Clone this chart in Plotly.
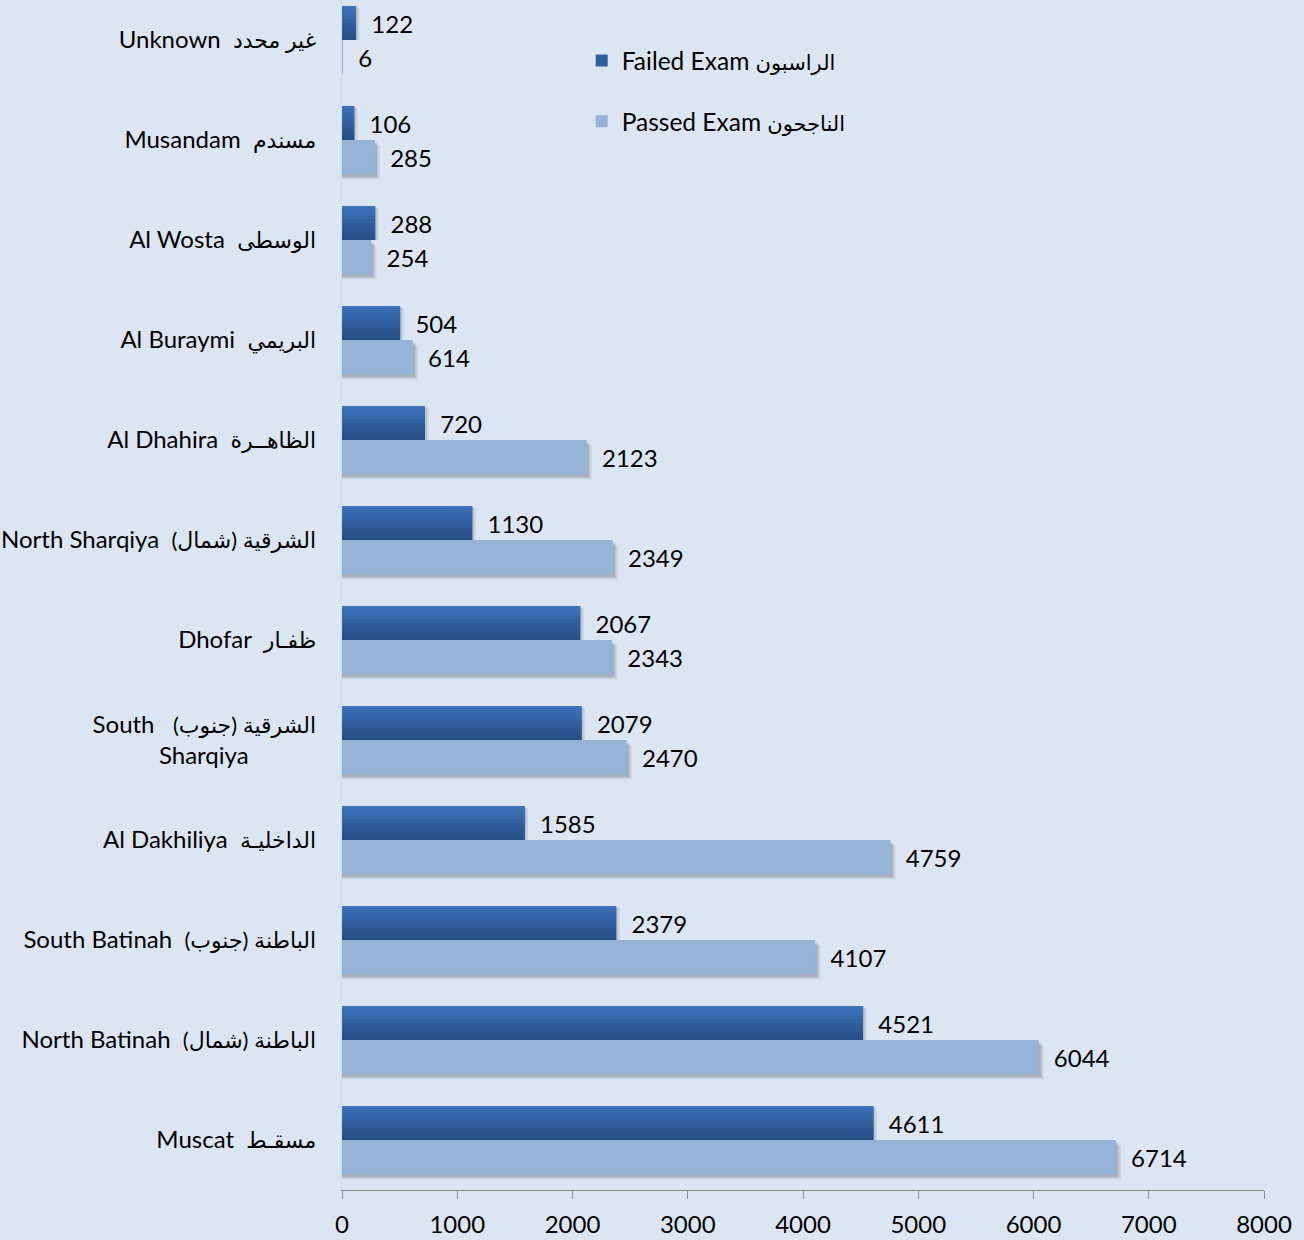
import plotly.graph_objects as go

# Categories listed bottom-to-top
regions_en = ["Muscat", "North Batinah", "South Batinah", "Al Dakhiliya", "South Sharqiya",
              "Dhofar", "North Sharqiya", "Al Dhahira", "Al Buraymi", "Al Wosta", "Musandam", "Unknown"]
regions_ar = ["مسقـط", "الباطنة (شمال)", "الباطنة (جنوب)", "الداخليـة", "الشرقية (جنوب)",
              "ظفـار", "الشرقية (شمال)", "الظاهــرة", "البريمي", "الوسطى", "مسندم", "غير محدد"]
failed = [4611, 4521, 2379, 1585, 2079, 2067, 1130, 720, 504, 288, 106, 122]
passed = [6714, 6044, 4107, 4759, 2470, 2343, 2349, 2123, 614, 254, 285, 6]
x_ticks = [0, 1000, 2000, 3000, 4000, 5000, 6000, 7000, 8000]

FONT = "Lato, 'DejaVu Sans', sans-serif"
RLI, PDI = "\u2067", "\u2069"
NB = "\u00a0"
BW = 0.34  # bar thickness in category units


def ar_span(s, size):
    return f'<span style="font-size:{size}px">{RLI}{s}{PDI}</span>'


ticktext = []
for en, ar in zip(regions_en, regions_ar):
    if en == "South Sharqiya":
        ticktext.append("South" + NB * 3 + ar_span(ar, 22) + "<br>Sharqiya" + NB * 11)
    else:
        ticktext.append(en + NB * 2 + ar_span(ar, 22))

fig = go.Figure()

# soft drop shadow under the light bars
for dx, dy, op in [(45, 0.055, 0.10), (30, 0.04, 0.14), (18, 0.025, 0.18)]:
    fig.add_trace(go.Bar(
        y=regions_en, x=[v + dx if v > 10 else 0 for v in passed], orientation="h",
        offset=-BW - dy, width=BW, marker=dict(color=f"rgba(70,80,100,{op})", line=dict(width=0)),
        showlegend=False, hoverinfo="skip",
    ))
for dx, op in [(30, 0.12), (15, 0.16)]:
    fig.add_trace(go.Bar(
        y=regions_en, x=[v + dx for v in failed], orientation="h",
        offset=0, width=BW * 0.95, marker=dict(color=f"rgba(70,80,100,{op})", line=dict(width=0)),
        showlegend=False, hoverinfo="skip",
    ))

# failed exam (dark, with vertical gradient strips)
fig.add_trace(go.Bar(
    y=regions_en, x=failed, orientation="h", name="Failed Exam " + ar_span("الراسبون", 21),
    offset=0, width=BW,
    marker=dict(color="#2f5f9f", line=dict(width=0)),
    text=[NB * 2 + str(v) for v in failed], textposition="outside",
    textfont=dict(size=24, color="#000000", family=FONT),
    cliponaxis=False, legendrank=1, legendgroup="f",
))
top_c = (0x3d, 0x73, 0xbb)
bot_c = (0x26, 0x4e, 0x85)
N = 10
for i in range(N):
    t = i / (N - 1)
    c = tuple(round(top_c[k] * (1 - t) + bot_c[k] * t) for k in range(3))
    fig.add_trace(go.Bar(
        y=regions_en, x=failed, orientation="h",
        offset=BW - (i + 1) * BW / N, width=BW / N * 1.02,
        marker=dict(color="rgb(%d,%d,%d)" % c, line=dict(width=0)),
        showlegend=False, hoverinfo="skip",
    ))

# passed exam (light)
fig.add_trace(go.Bar(
    y=regions_en, x=passed, orientation="h", name="Passed Exam " + ar_span("الناجحون", 21),
    offset=-BW, width=BW,
    marker=dict(color="#95b3d7", line=dict(width=0)),
    text=[NB * 2 + str(v) for v in passed], textposition="outside",
    textfont=dict(size=24, color="#000000", family=FONT),
    cliponaxis=False, legendrank=2, legendgroup="p",
))

fig.update_layout(
    width=1304, height=1240,
    barmode="overlay",
    paper_bgcolor="#dce6f2", plot_bgcolor="#dce6f2",
    margin=dict(l=342, r=40, t=0, b=50, autoexpand=False),
    font=dict(family=FONT, size=20, color="#000000"),
    legend=dict(x=0.26, y=0.968, xanchor="left", yanchor="top",
                bgcolor="rgba(0,0,0,0)", font=dict(size=24.5, family=FONT),
                tracegroupgap=26, itemwidth=30),
    xaxis=dict(range=[0, 8000], tickvals=x_ticks, showgrid=False, zeroline=False,
               showline=True, linecolor="#8c8c8c", linewidth=1,
               ticks="outside", ticklen=8, tickcolor="#8c8c8c", automargin=False,
               tickfont=dict(size=24, family=FONT), ticklabelstandoff=5),
    yaxis=dict(type="category", categoryorder="array", categoryarray=regions_en,
               tickvals=regions_en, ticktext=ticktext, range=[-0.5, 11.4],
               showgrid=False, zeroline=False, showline=True, linecolor="#d0dcea",
               automargin=False,
               ticks="", tickfont=dict(size=24, family=FONT), ticklabelstandoff=20),
)

fig.write_html("out.html", post_script="document.body.style.margin='0';",
               config={"displayModeBar": False})
